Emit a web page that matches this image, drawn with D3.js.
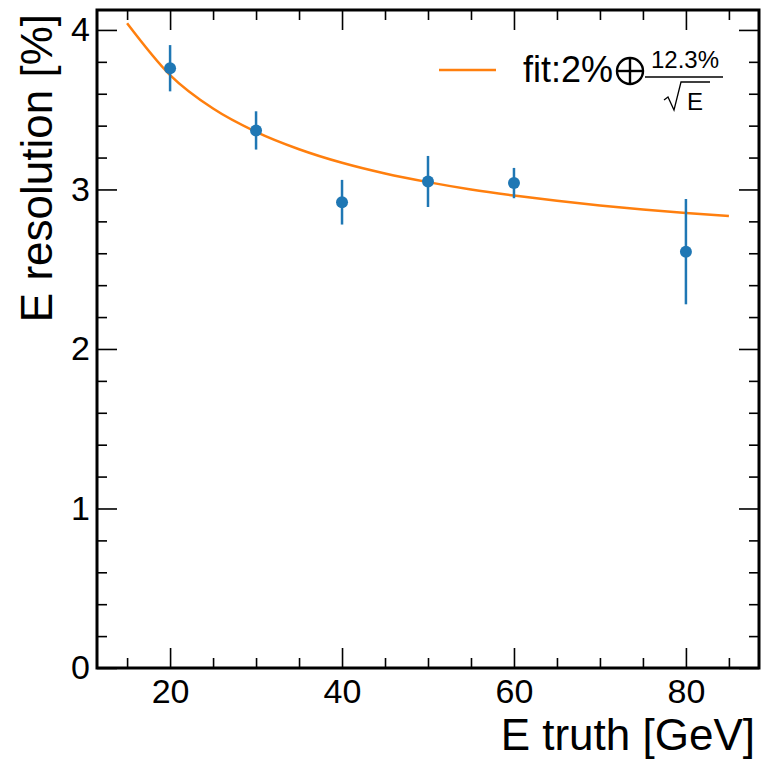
<!DOCTYPE html>
<html>
<head>
<meta charset="utf-8">
<script src="https://cdn.jsdelivr.net/npm/d3@7"></script>
<style>
  html, body { margin: 0; padding: 0; background: #fff; }
  svg { display: block; font-family: "Liberation Sans", Arial, Helvetica, sans-serif; }
</style>
</head>
<body>
<svg id="chart" width="762" height="763"></svg>
<script>
// ---- data ----
const energies = [20, 30, 40, 50, 60, 80];
const resolution = [3.76, 3.37, 2.92, 3.05, 3.04, 2.61];
const resolutionErr = [0.145, 0.12, 0.14, 0.16, 0.095, 0.33];
const fitEnergies = [15, 20, 25, 30, 35, 40, 45, 50, 55, 60, 65, 70, 75, 80, 85];
const fitValues = [4.042, 3.717, 3.507, 3.361, 3.252, 3.167, 3.100, 3.046, 3.000, 2.962, 2.929, 2.900, 2.875, 2.853, 2.834];
const xTicks = [20, 40, 60, 80];
const yTicks = [0, 1, 2, 3, 4];
const xLabel = "E truth [GeV]";
const yLabel = "E resolution [%]";

// ---- layout ----
const L = 97, R = 759, T = 10, B = 668;
const svg = d3.select("#chart");
const x = d3.scaleLinear().domain([11.5, 88.5]).range([L, R]);
const y = d3.scaleLinear().domain([0, 4.125]).range([B, T]);

const xMinor = d3.range(15, 90, 5).filter(v => !xTicks.includes(v));
const yMinor = d3.range(0, 4.13, 0.2).map(v => +v.toFixed(1)).filter(v => !yTicks.includes(v));

function styleAxis(g) {
  g.select(".domain").remove();
  g.selectAll("line").attr("stroke", "#000").attr("stroke-width", 1.6);
  g.selectAll("text").attr("font-size", 34).attr("fill", "#000")
    .attr("font-family", '"Liberation Sans", Arial, sans-serif');
}

// major/minor ticks, all inward
svg.append("g").attr("transform", `translate(0,${B})`)
  .call(d3.axisBottom(x).tickValues(xTicks).tickFormat(d3.format("d")).tickSize(-20).tickPadding(11))
  .call(styleAxis);
svg.append("g").attr("transform", `translate(0,${B})`)
  .call(d3.axisBottom(x).tickValues(xMinor).tickFormat("").tickSize(-10))
  .call(styleAxis);
svg.append("g").attr("transform", `translate(0,${T})`)
  .call(d3.axisTop(x).tickValues(xTicks).tickFormat("").tickSize(-20))
  .call(styleAxis);
svg.append("g").attr("transform", `translate(0,${T})`)
  .call(d3.axisTop(x).tickValues(xMinor).tickFormat("").tickSize(-10))
  .call(styleAxis);
svg.append("g").attr("transform", `translate(${L},0)`)
  .call(d3.axisLeft(y).tickValues(yTicks).tickFormat(d3.format("d")).tickSize(-20).tickPadding(7))
  .call(styleAxis);
svg.append("g").attr("transform", `translate(${L},0)`)
  .call(d3.axisLeft(y).tickValues(yMinor).tickFormat("").tickSize(-10))
  .call(styleAxis);
svg.append("g").attr("transform", `translate(${R},0)`)
  .call(d3.axisRight(y).tickValues(yTicks).tickFormat("").tickSize(-20))
  .call(styleAxis);
svg.append("g").attr("transform", `translate(${R},0)`)
  .call(d3.axisRight(y).tickValues(yMinor).tickFormat("").tickSize(-10))
  .call(styleAxis);

// fit curve
const line = d3.line().x(d => x(d[0])).y(d => y(d[1])).curve(d3.curveMonotoneX);
svg.append("path")
  .datum(fitEnergies.map((e, i) => [e, fitValues[i]]))
  .attr("d", line)
  .attr("fill", "none")
  .attr("stroke", "#ff7f0e")
  .attr("stroke-width", 2.5);

// error bars + points
const pts = energies.map((e, i) => ({ e, v: resolution[i], err: resolutionErr[i] }));
svg.append("g").selectAll("line").data(pts).join("line")
  .attr("x1", d => x(d.e)).attr("x2", d => x(d.e))
  .attr("y1", d => y(d.v - d.err)).attr("y2", d => y(d.v + d.err))
  .attr("stroke", "#1f77b4").attr("stroke-width", 2.5);
svg.append("g").selectAll("circle").data(pts).join("circle")
  .attr("cx", d => x(d.e)).attr("cy", d => y(d.v)).attr("r", 6)
  .attr("fill", "#1f77b4");

// frame
svg.append("rect")
  .attr("x", L).attr("y", T).attr("width", R - L).attr("height", B - T)
  .attr("fill", "none").attr("stroke", "#000").attr("stroke-width", 3);

// axis labels
svg.append("text")
  .attr("x", R - 4).attr("y", 750)
  .attr("text-anchor", "end")
  .attr("font-size", 44)
  .text(xLabel);
svg.append("text")
  .attr("transform", `translate(52,${T + 4}) rotate(-90)`)
  .attr("text-anchor", "end")
  .attr("font-size", 44)
  .text(yLabel);

// legend
const lg = svg.append("g");
lg.append("line").attr("x1", 439).attr("x2", 496).attr("y1", 70).attr("y2", 70)
  .attr("stroke", "#ff7f0e").attr("stroke-width", 2.5);
lg.append("text").attr("x", 523).attr("y", 82).attr("font-size", 36).text("fit:2%");
// circled plus
const cpx = 630, cpy = 71, cpr = 13;
lg.append("circle").attr("cx", cpx).attr("cy", cpy).attr("r", cpr)
  .attr("fill", "none").attr("stroke", "#000").attr("stroke-width", 2.4);
lg.append("line").attr("x1", cpx - cpr).attr("x2", cpx + cpr).attr("y1", cpy).attr("y2", cpy)
  .attr("stroke", "#000").attr("stroke-width", 2.4);
lg.append("line").attr("x1", cpx).attr("x2", cpx).attr("y1", cpy - cpr).attr("y2", cpy + cpr)
  .attr("stroke", "#000").attr("stroke-width", 2.4);
// fraction
lg.append("text").attr("x", 685).attr("y", 68).attr("font-size", 24)
  .attr("text-anchor", "middle").text("12.3%");
lg.append("line").attr("x1", 645).attr("x2", 723).attr("y1", 77).attr("y2", 77)
  .attr("stroke", "#000").attr("stroke-width", 1.5);
lg.append("path").attr("d", "M664,100 L668,97 L674,110 L681,82 L710,82")
  .attr("fill", "none").attr("stroke", "#000").attr("stroke-width", 1.3);
lg.append("text").attr("x", 687).attr("y", 110).attr("font-size", 24).text("E");
</script>
</body>
</html>
